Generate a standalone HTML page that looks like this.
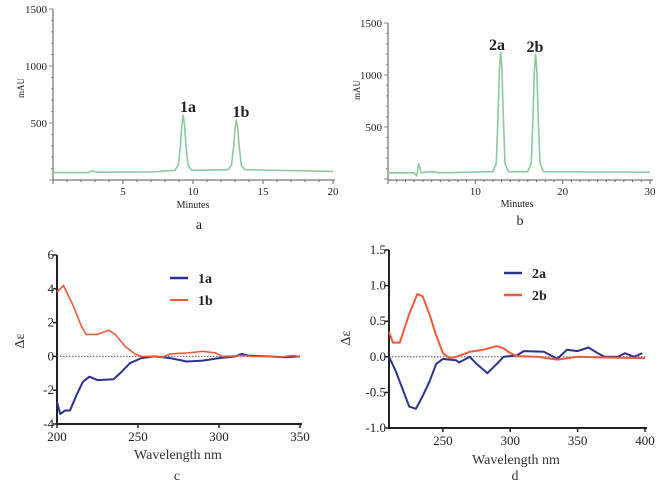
<!DOCTYPE html>
<html><head><meta charset="utf-8">
<style>
html,body{margin:0;padding:0;background:#fff;}
svg{display:block;font-family:"Liberation Serif",serif;}
</style></head>
<body>
<svg id="fig" width="670" height="489" viewBox="0 0 670 489" xmlns="http://www.w3.org/2000/svg"></svg>
<script>
// Panel a: HPLC chromatogram of 1a/1b
const aTime = [0,2.5,2.8,3.2,7,8.7,8.95,9.1,9.2,9.3,9.4,9.5,9.65,9.9,12.5,12.75,12.9,13.0,13.1,13.2,13.3,13.45,13.7,20];
const aAbs  = [65,65,80,68,70,85,130,300,480,570,480,300,130,85,90,130,290,450,525,450,290,130,90,75];
const aXTicks = [5,10,15,20];
const aYTicks = [500,1000,1500];
// Panel b: HPLC chromatogram of 2a/2b
const bTime = [0,3.0,3.3,3.5,3.8,4.2,5,6,12.0,12.4,12.6,12.75,12.9,13.05,13.2,13.4,13.8,16.0,16.4,16.6,16.75,16.9,17.05,17.2,17.4,17.8,30];
const bAbs  = [60,60,30,150,60,65,70,60,70,150,600,1050,1220,1050,600,150,70,70,150,600,1030,1200,1030,600,150,70,65];
const bXTicks = [10,20,30];
const bYTicks = [500,1000,1500];
// Panel c: CD spectra 1a/1b
const cWl1b = [200,204,207,210,215,218,225,232,236,242,248,252,260,265,270,280,290,298,302,315,320,330,338,345,350];
const cDe1b = [3.8,4.2,3.6,3.0,1.8,1.3,1.3,1.55,1.3,0.6,0.15,0,0,-0.05,0.15,0.2,0.3,0.2,0,0.05,0,0,-0.05,0.05,0];
const cWl1a = [200,202,205,208,212,216,220,225,235,240,245,252,260,270,280,290,300,310,314,318,330,340,350];
const cDe1a = [-2.7,-3.4,-3.2,-3.2,-2.3,-1.5,-1.2,-1.4,-1.35,-0.9,-0.4,-0.1,0,-0.1,-0.3,-0.25,-0.1,0,0.15,0.05,0,-0.05,0];
const cXTicks = [200,250,300,350];
const cYTicks = [-4,-2,0,2,4,6];
// Panel d: CD spectra 2a/2b
const dWl2b = [210,213,218,225,231,235,240,245,250,255,260,270,280,290,295,300,305,320,335,350,370,400];
const dDe2b = [0.35,0.2,0.2,0.6,0.88,0.85,0.6,0.3,0.05,-0.02,0,0.07,0.1,0.15,0.12,0.05,0.01,0,-0.04,0,-0.01,-0.02];
const dWl2a = [210,215,220,225,230,235,240,245,250,260,262,270,275,283,290,295,305,310,325,335,342,350,358,365,370,380,385,392,398];
const dDe2a = [0,-0.2,-0.45,-0.7,-0.73,-0.55,-0.35,-0.1,-0.03,-0.05,-0.08,0,-0.1,-0.23,-0.1,0,0.02,0.08,0.07,-0.03,0.1,0.08,0.13,0.05,0,0,0.05,0,0.05];
const dXTicks = [250,300,350,400];
const dYTicks = ["-1.0","-0.5","0.0","0.5","1.0","1.5"];

const svg = document.getElementById('fig');
const NS = 'http://www.w3.org/2000/svg';
function mk(tag, attrs, parent){
  const e = document.createElementNS(NS, tag);
  for (const k in attrs) e.setAttribute(k, attrs[k]);
  (parent||svg).appendChild(e);
  return e;
}
function txt(x,y,s,size,anchor,parent,extra){
  const t = mk('text',Object.assign({x:x,y:y,'font-size':size,'text-anchor':anchor||'middle',fill:'#222'},extra||{}),parent);
  t.textContent = s; return t;
}
function scale(d0,d1,r0,r1){return v => r0 + (v-d0)*(r1-r0)/(d1-d0);}
function pathFrom(xs,ys,sx,sy){
  return xs.map((x,i)=>(i?'L':'M')+sx(x).toFixed(1)+' '+sy(ys[i]).toFixed(1)).join(' ');
}

// ---------- Panel a ----------
(function(){
  const g = mk('g',{});
  
  
  const sx = scale(0,20,53,333), sy = scale(0,1500,180,9);
  const ax = mk('path',{d:`M53 9 L53 180 L335 180`,stroke:'#555',fill:'none','stroke-width':1},g);
   
  for (let m=0;m<=20;m++){ mk('line',{x1:sx(m),x2:sx(m),y1:180,y2:m%5?182:184,stroke:'#666'},g); }
  for (let v=0;v<=1500;v+=100){ mk('line',{x1:53,x2:v%500?51:49,y1:sy(v),y2:sy(v),stroke:'#888'},g); }
  aXTicks.forEach(t=>{ const e=txt(sx(t),195,t,11,'middle',g);   });
  aYTicks.forEach(t=>{ const e=txt(47,sy(t)+4,t,11,'end',g);   });
  const xt=txt(193,208,'Minutes',10,'middle',g);  
  const yt=txt(24,88,'mAU',9,'middle',g,{transform:'rotate(-90 24 88)'});  
  const ln=mk('path',{d:pathFrom(aTime,aAbs,sx,sy),stroke:'#8cc9a0',fill:'none','stroke-width':1.6,'stroke-linejoin':'round'},g);
   
  const l1=txt(188,112,'1a',16,'middle',g,{'font-weight':'bold'});  
  const l2=txt(241,117,'1b',16,'middle',g,{'font-weight':'bold'});  
  const cap=txt(199,229,'a',14,'middle',g);  
})();

// ---------- Panel b ----------
(function(){
  const g = mk('g',{});
  
  
  const sx = scale(0,30,388,650), sy = scale(0,1500,179,23);
  const ax = mk('path',{d:`M388 23 L388 180 L653 180`,stroke:'#555',fill:'none','stroke-width':1},g);
   
  for (let m=0;m<=30;m++){ mk('line',{x1:sx(m),x2:sx(m),y1:180,y2:m%10?182:184,stroke:'#666'},g); }
  for (let v=0;v<=1500;v+=100){ mk('line',{x1:388,x2:v%500?386:384,y1:sy(v),y2:sy(v),stroke:'#888'},g); }
  bXTicks.forEach(t=>{ const e=txt(sx(t),195,t,11,'middle',g);   });
  bYTicks.forEach(t=>{ const e=txt(382,sy(t)+4,t,11,'end',g);   });
  const xt=txt(517,207,'Minutes',10,'middle',g);  
  const yt=txt(360,90,'mAU',9,'middle',g,{transform:'rotate(-90 360 90)'});  
  const ln=mk('path',{d:pathFrom(bTime,bAbs,sx,sy),stroke:'#8cc9a0',fill:'none','stroke-width':1.6,'stroke-linejoin':'round'},g);
   
  const l1=txt(497,50,'2a',16,'middle',g,{'font-weight':'bold'});  
  const l2=txt(535,52,'2b',16,'middle',g,{'font-weight':'bold'});  
  const cap=txt(520,225,'b',14,'middle',g);  
})();

// ---------- CD panel helper ----------
function cdPanel(o){
  const g = mk('g',{});
  
  
  const sx = scale(o.x0,o.x1,o.px0,o.px1), sy = scale(o.y0,o.y1,o.py0,o.py1);
  const ax = mk('path',{d:`M${o.px0} ${o.py1} L${o.px0} ${o.py0} L${o.px1+2} ${o.py0}`,stroke:'#222',fill:'none','stroke-width':2},g);
   
  const zl = mk('line',{x1:o.px0,x2:o.px1,y1:sy(0),y2:sy(0),stroke:'#555','stroke-dasharray':'1.5 1.5','stroke-width':1},g);
   
  o.xt.forEach(t=>{ mk('line',{x1:sx(t),x2:sx(t),y1:o.py0,y2:o.py0+4,stroke:'#222','stroke-width':1.5},g);
    const e=txt(sx(t),o.py0+17,t,13,'middle',g,{fill:'#222'});   });
  o.yt.forEach(t=>{ const v=parseFloat(t); mk('line',{x1:o.px0-4,x2:o.px0,y1:sy(v),y2:sy(v),stroke:'#222','stroke-width':1.5},g);
    const e=txt(o.px0-3,sy(v)+4,t,13,'end',g,{fill:'#222'});   });
  const xt=txt(o.xtX,o.xtY,'Wavelength nm',14,'middle',g,{fill:'#333'});  
  const yt=txt(o.ytX,o.ytY,'Δε',14,'middle',g,{transform:`rotate(-90 ${o.ytX} ${o.ytY})`,fill:'#333'});  
  o.series.forEach((s,i)=>{
    const p=mk('path',{d:pathFrom(s.x,s.y,sx,sy),stroke:s.color,fill:'none','stroke-width':s.w,'stroke-linejoin':'round'},g);
     
    const ly = o.legY + i*22;
    const lg = mk('g',{},g);
     
    mk('line',{x1:o.legX,x2:o.legX+18,y1:ly,y2:ly,stroke:s.color,'stroke-width':s.w+0.5},lg);
    txt(o.legX+28,ly+5,s.label,14,'start',lg,{'font-weight':'bold','fill':'#222'});
  });
  const cap=txt(o.capX,480,o.cap,14,'middle',g,{fill:'#333'});  
}
cdPanel({name:'cd-spectrum-c',x0:200,x1:350,px0:57,px1:300,y0:-4,y1:6,py0:424,py1:255,
  xt:cXTicks,yt:cYTicks,xtX:178,xtY:459,ytX:24,ytY:341,legX:170,legY:278,capX:177,cap:'c',
  series:[{label:'1a',x:cWl1a,y:cDe1a,color:'#2e3192',w:2},{label:'1b',x:cWl1b,y:cDe1b,color:'#ef5a3a',w:1.6}]});
cdPanel({name:'cd-spectrum-d',x0:210,x1:400,px0:389,px1:645,y0:-1,y1:1.5,py0:428,py1:250,
  xt:dXTicks,yt:dYTicks,xtX:516,xtY:464,ytX:350,ytY:338,legX:504,legY:273,capX:515,cap:'d',
  series:[{label:'2a',x:dWl2a,y:dDe2a,color:'#2e3192',w:2},{label:'2b',x:dWl2b,y:dDe2b,color:'#ef5a3a',w:2}]});
</script>
</body></html>
